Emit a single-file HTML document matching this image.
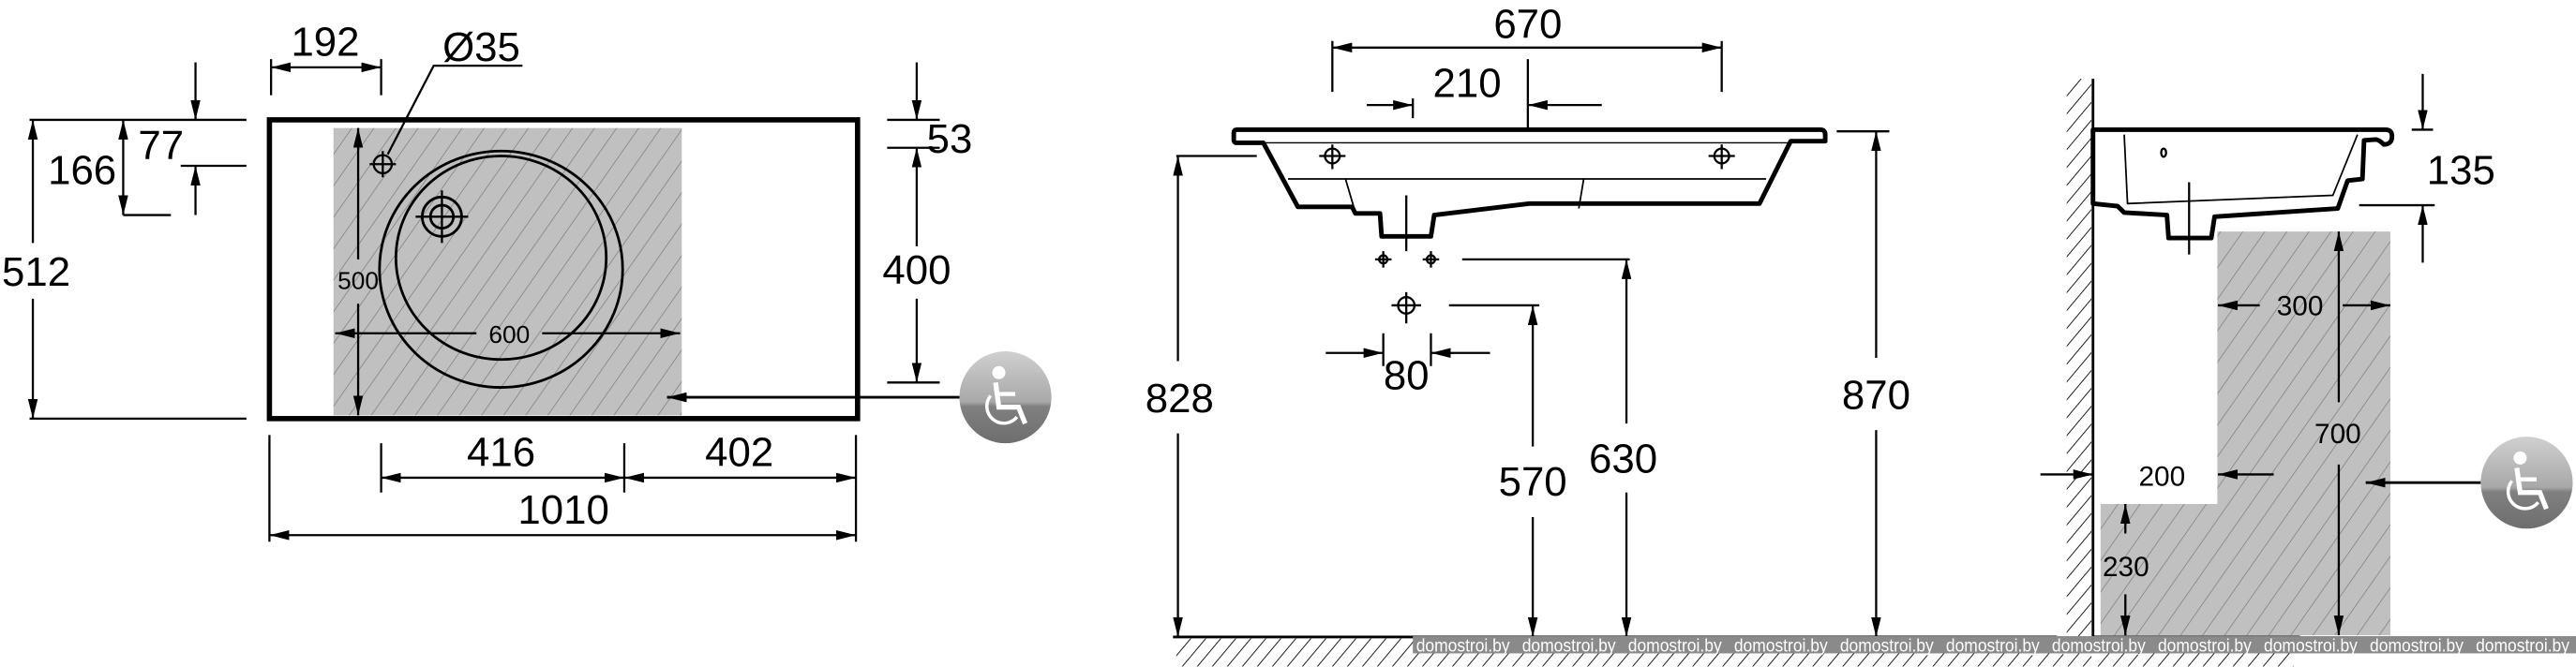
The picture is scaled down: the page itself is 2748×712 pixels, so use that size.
<!DOCTYPE html>
<html><head><meta charset="utf-8"><style>
html,body{margin:0;padding:0;background:#fff;}
svg{display:block;}
text{font-family:"Liberation Sans Narrow","Liberation Sans",Arial,sans-serif;fill:#000;}
</style></head><body>
<svg width="2748" height="712" viewBox="0 0 1568 406.3" preserveAspectRatio="none" xmlns="http://www.w3.org/2000/svg">
<defs>
<marker id="ar" viewBox="0 0 12 6" refX="12" refY="3" markerWidth="12" markerHeight="6" markerUnits="userSpaceOnUse" orient="auto-start-reverse">
<path d="M0,0 L12,3 L0,6 z" fill="#000"/></marker>
<pattern id="hz" width="11" height="11" patternUnits="userSpaceOnUse" patternTransform="rotate(35)">
<rect width="11" height="11" fill="#c0c0c0"/><line x1="0" y1="0" x2="0" y2="11" stroke="#7a7a7a" stroke-width="0.8"/></pattern>
<pattern id="wh" width="7" height="7" patternUnits="userSpaceOnUse" patternTransform="rotate(40)">
<line x1="0" y1="0" x2="0" y2="7" stroke="#000" stroke-width="1"/></pattern>
<linearGradient id="wg" x1="0" y1="0" x2="0" y2="1">
<stop offset="0" stop-color="#d0d0d0"/><stop offset="0.55" stop-color="#a8a8a8"/><stop offset="0.6" stop-color="#808080"/><stop offset="1" stop-color="#6e6e6e"/></linearGradient>
<g id="wc">
<circle r="28" fill="url(#wg)"/>
<circle cx="-4" cy="-15" r="4" fill="#fff"/>
<path d="M-6,-9 L-4,6 L8,6 L12,16" stroke="#fff" stroke-width="3" fill="none"/>
<path d="M-4,-2 L6,-2" stroke="#fff" stroke-width="2.5"/>
<path d="M-9,-1 A10,10 0 1 0 7,12" stroke="#fff" stroke-width="2" fill="none"/>
</g>
</defs>
<g stroke="#000" stroke-width="1.3" fill="none">

<!-- LEFT VIEW -->
<rect x="203" y="78" width="212" height="175" fill="url(#hz)" stroke="none"/>
<rect x="164" y="73" width="358" height="182" stroke-width="3.2"/>
<ellipse cx="305" cy="164" rx="74" ry="72" stroke-width="1.6"/>
<ellipse cx="305" cy="157" rx="64" ry="62" stroke-width="1.6"/>
<circle cx="269" cy="132" r="12" stroke-width="1.6"/>
<circle cx="269" cy="132" r="7" stroke-width="1.6"/>
<path d="M253,132 H285 M269,116 V148"/>
<circle cx="233" cy="100" r="5.5"/>
<path d="M225,100 H241 M233,92 V108"/>
<path d="M236,94 L264,40 H318" />
<path d="M165,36 V58 M232,36 V58"/>
<line x1="165" y1="41" x2="232" y2="41" marker-start="url(#ar)" marker-end="url(#ar)"/>
<path d="M18,73 H150 M110,101 H150 M75,131 H104 M18,255 H150"/>
<line x1="119" y1="38" x2="119" y2="73" marker-end="url(#ar)"/>
<line x1="119" y1="131" x2="119" y2="101" marker-end="url(#ar)"/>
<line x1="75" y1="73" x2="75" y2="131" marker-start="url(#ar)" marker-end="url(#ar)"/>
<line x1="20" y1="73" x2="20" y2="148" marker-start="url(#ar)"/>
<line x1="20" y1="182" x2="20" y2="255" marker-end="url(#ar)"/>
<path d="M540,73 H572 M540,90 H572 M540,233 H572"/>
<line x1="558" y1="38" x2="558" y2="73" marker-end="url(#ar)"/>
<line x1="558" y1="150" x2="558" y2="90" marker-end="url(#ar)"/>
<line x1="558" y1="182" x2="558" y2="233" marker-end="url(#ar)"/>
<line x1="218" y1="158" x2="218" y2="78" marker-end="url(#ar)"/>
<line x1="218" y1="185" x2="218" y2="253" marker-end="url(#ar)"/>
<line x1="290" y1="203" x2="204" y2="203" marker-end="url(#ar)"/>
<line x1="330" y1="203" x2="414" y2="203" marker-end="url(#ar)"/>
<line x1="584" y1="242" x2="406" y2="242" stroke-width="1.6" marker-end="url(#ar)"/>
<path d="M164,265 V330 M232,270 V300 M380,270 V300 M521,265 V330"/>
<line x1="232" y1="291" x2="380" y2="291" marker-start="url(#ar)" marker-end="url(#ar)"/>
<line x1="380" y1="291" x2="521" y2="291" marker-start="url(#ar)" marker-end="url(#ar)"/>
<line x1="164" y1="326" x2="521" y2="326" marker-start="url(#ar)" marker-end="url(#ar)"/>

<!-- MIDDLE VIEW -->
<path d="M811,25 V56 M1048,25 V56"/>
<line x1="811" y1="29" x2="1048" y2="29" marker-start="url(#ar)" marker-end="url(#ar)"/>
<path d="M860,60 V72 M930,36 V78"/>
<line x1="832" y1="64" x2="860" y2="64" marker-end="url(#ar)"/>
<line x1="975" y1="64" x2="930" y2="64" marker-end="url(#ar)"/>
<path d="M753,79 H1108 Q1111,79 1111,82 V86 H1090 L1071,124 H961 L931,124 L873,131 L871,144 H841 L840,130 H825 L823,126 H790 L769,87 H753 Q751,87 751,85 V81 Q751,79 753,79 Z" stroke-width="2.8" stroke-linejoin="round"/>
<path d="M769,87 H1090" stroke-width="0.8"/>
<path d="M784,109 H1075 M819,109 L824,126 M964,109 L961,127" stroke-width="1"/>
<circle cx="811" cy="95" r="4.5"/><path d="M803,95 H819 M811,88 V103"/>
<circle cx="1048" cy="95" r="4.5"/><path d="M1040,95 H1056 M1048,88 V103"/>
<path d="M856,119 V153"/>
<circle cx="842" cy="158" r="2.5"/><path d="M837,158 H847 M842,153 V163"/>
<circle cx="871" cy="158" r="2.5"/><path d="M866,158 H876 M871,153 V163"/>
<path d="M890,158 H992"/>
<circle cx="856" cy="186" r="5"/><path d="M847,186 H865 M856,178 V197 M882,186 H937"/>
<path d="M842,203 V223 M871,203 V223"/>
<line x1="807" y1="215" x2="842" y2="215" marker-end="url(#ar)"/>
<line x1="907" y1="215" x2="871" y2="215" marker-end="url(#ar)"/>
<line x1="933" y1="272" x2="933" y2="186" marker-end="url(#ar)"/>
<line x1="933" y1="315" x2="933" y2="388" marker-end="url(#ar)"/>
<line x1="990" y1="258" x2="990" y2="158" marker-end="url(#ar)"/>
<line x1="990" y1="300" x2="990" y2="388" marker-end="url(#ar)"/>
<path d="M716,95 H765 M1118,80 H1150"/>
<line x1="717" y1="220" x2="717" y2="95" marker-end="url(#ar)"/>
<line x1="717" y1="264" x2="717" y2="388" marker-end="url(#ar)"/>
<line x1="1142" y1="218" x2="1142" y2="80" marker-end="url(#ar)"/>
<line x1="1142" y1="262" x2="1142" y2="388" marker-end="url(#ar)"/>
<path d="M714,388 H1252" stroke-width="1.6"/>
<rect x="716" y="389" width="540" height="17" fill="url(#wh)" stroke="none"/>

<!-- RIGHT VIEW -->
<rect x="1258" y="48" width="15" height="358" fill="url(#wh)" stroke="none"/>
<path d="M1349.7,141 H1455 V387 H1278.6 V307 H1349.7 Z" fill="url(#hz)" stroke="none"/>
<path d="M1274,48 V388" stroke-width="1.6"/>
<path d="M1274,79 H1452 Q1456,79 1456,83 Q1456,88 1451,88 Q1448,85 1446,85 L1439,85.5 L1438,109 L1429,110 L1423,127 L1348,132 L1346,145 H1320 L1319,131 L1293,129.5 L1289,125.6 L1274,124 Z" stroke-width="2.8" stroke-linejoin="round"/>
<path d="M1293,82 L1295,124 L1420,119 L1435,82" stroke-width="1"/>
<ellipse cx="1317" cy="93" rx="1.5" ry="2.5"/>
<path d="M1332.5,111 V155"/>
<path d="M1468,79 H1481 M1436,125 H1482"/>
<line x1="1474.7" y1="45" x2="1474.7" y2="79" marker-end="url(#ar)"/>
<line x1="1474.7" y1="160" x2="1474.7" y2="125" marker-end="url(#ar)"/>
<line x1="1375.5" y1="186" x2="1350" y2="186" marker-end="url(#ar)"/>
<line x1="1426" y1="186" x2="1455" y2="186" marker-end="url(#ar)"/>
<line x1="1423.6" y1="245" x2="1423.6" y2="141" marker-end="url(#ar)"/>
<line x1="1423.6" y1="283" x2="1423.6" y2="387" marker-end="url(#ar)"/>
<line x1="1242" y1="289" x2="1274" y2="289" marker-end="url(#ar)"/>
<line x1="1384" y1="289" x2="1350" y2="289" marker-end="url(#ar)"/>
<line x1="1293.7" y1="325" x2="1293.7" y2="307" marker-end="url(#ar)"/>
<line x1="1293.7" y1="362" x2="1293.7" y2="387" marker-end="url(#ar)"/>
<line x1="1510" y1="294" x2="1440" y2="294" stroke-width="1.6" marker-end="url(#ar)"/>
<path d="M1274,388 H1400" stroke-width="1.6"/>
<rect x="1276" y="389" width="120" height="17" fill="url(#wh)" stroke="none"/>
</g>

<use href="#wc" x="612" y="242"/>
<use href="#wc" x="1538" y="294"/>

<rect x="860" y="387.5" width="708" height="10.5" fill="#8a8a8a"/>
<g font-size="11">
<text x="862" y="397" textLength="57" lengthAdjust="spacingAndGlyphs" style="fill:#fff">domostroi.by</text>
<text x="926.5" y="397" textLength="57" lengthAdjust="spacingAndGlyphs" style="fill:#fff">domostroi.by</text>
<text x="991" y="397" textLength="57" lengthAdjust="spacingAndGlyphs" style="fill:#fff">domostroi.by</text>
<text x="1055.5" y="397" textLength="57" lengthAdjust="spacingAndGlyphs" style="fill:#fff">domostroi.by</text>
<text x="1120" y="397" textLength="57" lengthAdjust="spacingAndGlyphs" style="fill:#fff">domostroi.by</text>
<text x="1184.5" y="397" textLength="57" lengthAdjust="spacingAndGlyphs" style="fill:#fff">domostroi.by</text>
<text x="1249" y="397" textLength="57" lengthAdjust="spacingAndGlyphs" style="fill:#fff">domostroi.by</text>
<text x="1313.5" y="397" textLength="57" lengthAdjust="spacingAndGlyphs" style="fill:#fff">domostroi.by</text>
<text x="1378" y="397" textLength="57" lengthAdjust="spacingAndGlyphs" style="fill:#fff">domostroi.by</text>
<text x="1442.5" y="397" textLength="57" lengthAdjust="spacingAndGlyphs" style="fill:#fff">domostroi.by</text>
<text x="1507" y="397" textLength="57" lengthAdjust="spacingAndGlyphs" style="fill:#fff">domostroi.by</text>
</g>

<g font-size="25" text-anchor="middle">
<text x="198" y="34">192</text>
<text x="293" y="37">Ø35</text>
<text x="98" y="97">77</text>
<text x="50" y="112">166</text>
<text x="22" y="174">512</text>
<text x="578" y="93">53</text>
<text x="558" y="173">400</text>
<text x="305" y="284">416</text>
<text x="450" y="284">402</text>
<text x="343" y="319">1010</text>
<text x="930" y="23">670</text>
<text x="893" y="59">210</text>
<text x="856" y="237">80</text>
<text x="718" y="251">828</text>
<text x="933" y="302">570</text>
<text x="988" y="288">630</text>
<text x="1142" y="249">870</text>
<text x="1498" y="112">135</text>
</g>
<g font-size="15" text-anchor="middle">
<text x="218" y="176">500</text>
<text x="310" y="209">600</text>
<text x="1400" y="192" font-size="17">300</text>
<text x="1423" y="270" font-size="17">700</text>
<text x="1316" y="296" font-size="17">200</text>
<text x="1294" y="351" font-size="17">230</text>
</g>
</svg>
</body></html>
